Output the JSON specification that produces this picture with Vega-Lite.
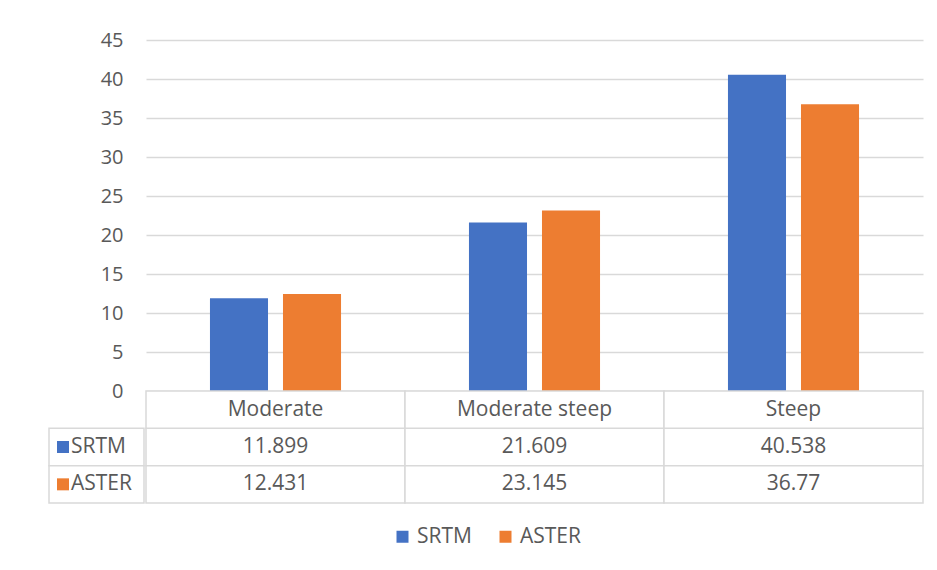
{
  "$schema": "https://vega.github.io/schema/vega-lite/v6.json",
  "background": "white",
  "padding": {"left": 48, "top": 30, "right": 10, "bottom": 10},
  "spacing": 0,
  "config": {
    "view": {"stroke": null},
    "font": "Open Sans",
    "text": {"font": "Open Sans", "fontSize": 21, "color": "#595959"},
    "axis": {"labelFont": "Open Sans", "minExtent": 0},
    "legend": {
      "orient": "bottom",
      "direction": "horizontal",
      "symbolType": "square",
      "symbolSize": 144,
      "symbolStrokeWidth": 0,
      "labelFont": "Open Sans",
      "labelFontSize": 21,
      "labelColor": "#595959",
      "labelOffset": 4,
      "columnPadding": 23,
      "offset": 22,
      "title": null,
      "layout": {"bottom": {"anchor": "middle"}}
    },
    "concat": {"spacing": 0}
  },
  "datasets": {
    "dem": [
      {"slope": "Moderate", "dem": "SRTM", "value": 11.899},
      {"slope": "Moderate", "dem": "ASTER", "value": 12.431},
      {"slope": "Moderate steep", "dem": "SRTM", "value": 21.609},
      {"slope": "Moderate steep", "dem": "ASTER", "value": 23.145},
      {"slope": "Steep", "dem": "SRTM", "value": 40.538},
      {"slope": "Steep", "dem": "ASTER", "value": 36.77}
    ]
  },
  "resolve": {"scale": {"x": "independent", "y": "independent", "color": "shared"}},
  "hconcat": [
    {
      "bounds": "flush",
      "spacing": 0,
      "resolve": {"scale": {"x": "independent", "y": "independent", "color": "shared"}},
      "vconcat": [
        {
          "width": 95,
          "height": 351,
          "data": {"name": "dem"},
          "mark": {"type": "point", "opacity": 0},
          "encoding": {
            "y": {
              "field": "value",
              "type": "quantitative",
              "scale": {"domain": [0, 45], "nice": false},
              "axis": {
                "values": [0, 5, 10, 15, 20, 25, 30, 35, 40, 45],
                "title": null,
                "domain": false,
                "ticks": false,
                "grid": false,
                "labelAlign": "right",
                "labelPadding": -74,
                "labelFontSize": 20,
                "labelColor": "#595959"
              }
            }
          }
        },
        {
          "width": 95,
          "height": 112,
          "data": {"name": "dem"},
          "transform": [{"filter": "datum.slope === 'Moderate'"}],
          "encoding": {
            "y": {
              "field": "dem",
              "type": "nominal",
              "scale": {"domain": ["Slope", "SRTM", "ASTER"], "paddingInner": 0, "paddingOuter": 0},
              "axis": null
            }
          },
          "layer": [
            {"mark": {"type": "rect", "fill": "white", "stroke": "#d9d9d9", "strokeWidth": 1.5}},
            {
              "mark": {"type": "point", "shape": "square", "filled": true, "size": 144, "opacity": 1, "xOffset": -33.5},
              "encoding": {"color": {"field": "dem", "type": "nominal"}}
            },
            {
              "mark": {"type": "text", "align": "left", "dx": -25.5},
              "encoding": {"text": {"field": "dem", "type": "nominal"}}
            }
          ]
        }
      ]
    },
    {
      "bounds": "flush",
      "spacing": 0,
      "resolve": {"scale": {"x": "independent", "y": "independent", "color": "shared"}},
      "vconcat": [
        {
          "width": 777,
          "height": 351,
          "data": {"name": "dem"},
          "mark": {"type": "bar"},
          "encoding": {
            "x": {
              "field": "slope",
              "type": "nominal",
              "sort": ["Moderate", "Moderate steep", "Steep"],
              "scale": {"paddingInner": 0, "paddingOuter": 0},
              "axis": null
            },
            "xOffset": {
              "field": "dem",
              "type": "nominal",
              "sort": ["SRTM", "ASTER"],
              "scale": {"paddingInner": 0.205, "paddingOuter": 0.876}
            },
            "y": {
              "field": "value",
              "type": "quantitative",
              "scale": {"domain": [0, 45], "nice": false},
              "axis": {
                "values": [0, 5, 10, 15, 20, 25, 30, 35, 40, 45],
                "title": null,
                "domain": false,
                "ticks": false,
                "labels": false,
                "gridColor": "#d9d9d9",
                "gridWidth": 1.5
              }
            },
            "color": {
              "field": "dem",
              "type": "nominal",
              "scale": {"domain": ["SRTM", "ASTER"], "range": ["#4472C4", "#ED7D31"]}
            }
          }
        },
        {
          "width": 777,
          "height": 112,
          "data": {"name": "dem"},
          "encoding": {
            "x": {
              "field": "slope",
              "type": "nominal",
              "sort": ["Moderate", "Moderate steep", "Steep"],
              "scale": {"paddingInner": 0, "paddingOuter": 0},
              "axis": null
            }
          },
          "layer": [
            {
              "mark": {"type": "rect", "fill": "white", "stroke": "#d9d9d9", "strokeWidth": 1.5},
              "encoding": {
                "y": {
                  "field": "dem",
                  "type": "nominal",
                  "scale": {"domain": ["Slope", "SRTM", "ASTER"], "paddingInner": 0, "paddingOuter": 0},
                  "axis": null
                }
              }
            },
            {
              "transform": [{"filter": "datum.dem === 'SRTM'"}],
              "mark": {"type": "rect", "fill": "white", "stroke": "#d9d9d9", "strokeWidth": 1.5},
              "encoding": {"y": {"datum": "Slope", "type": "nominal"}}
            },
            {
              "mark": {"type": "text"},
              "encoding": {
                "y": {"field": "dem", "type": "nominal"},
                "text": {"field": "value", "type": "nominal"}
              }
            },
            {
              "transform": [{"filter": "datum.dem === 'SRTM'"}],
              "mark": {"type": "text"},
              "encoding": {
                "y": {"datum": "Slope", "type": "nominal"},
                "text": {"field": "slope", "type": "nominal"}
              }
            }
          ]
        }
      ]
    }
  ]
}
